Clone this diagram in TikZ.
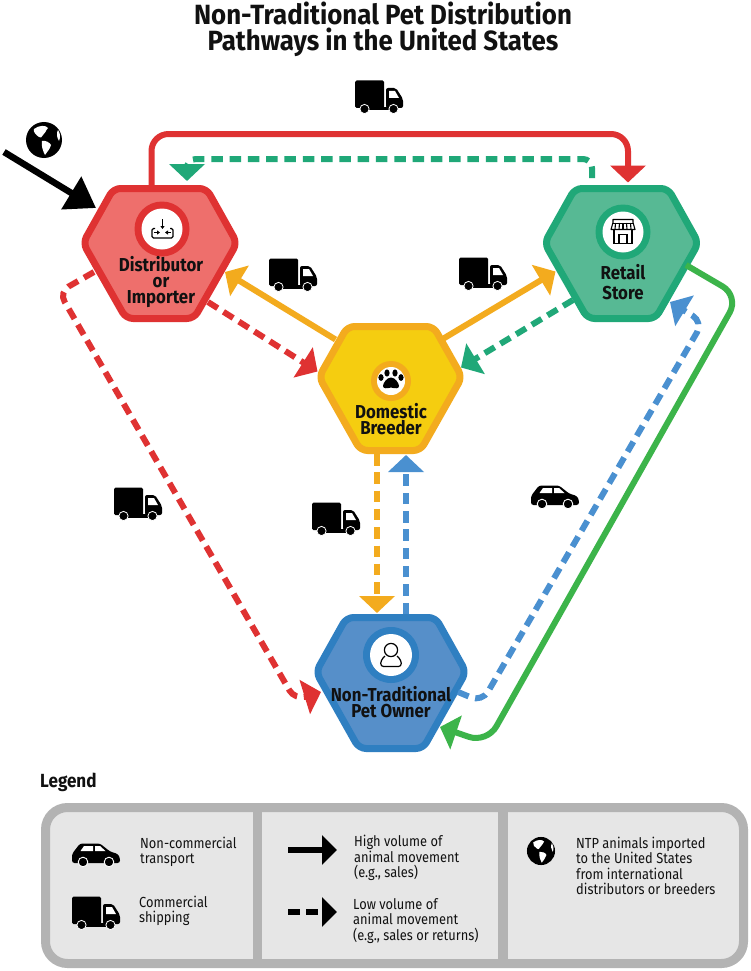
\documentclass[tikz,border=0pt]{standalone}
\usepackage{fontspec}
\setmainfont{Fira Sans}[FakeStretch=0.9]
\newfontfamily\regfont{Fira Sans}[FakeStretch=0.88]
\newfontfamily\titlefont{Fira Sans}[FakeStretch=0.93]
\usetikzlibrary{arrows.meta,calc}
\definecolor{cred}{HTML}{DF3232}\definecolor{credf}{HTML}{EE6F6C}
\definecolor{cgreen}{HTML}{20A878}\definecolor{cgreenf}{HTML}{57B994}
\definecolor{cyel}{HTML}{F3AB1E}\definecolor{cyelf}{HTML}{F5CD10}
\definecolor{cblue}{HTML}{2F7FC1}\definecolor{cbluef}{HTML}{568FC9}
\definecolor{cblue2}{HTML}{4A90D0}\definecolor{cgr2}{HTML}{3CB44A}
\definecolor{lgfill}{HTML}{E6E6E6}\definecolor{lgline}{HTML}{B3B3B3}
\definecolor{ink}{HTML}{111111}
\tikzset{
 hexbox/.style={inner sep=0pt,outer sep=0pt},
 hexline/.style={line width=7pt,line join=round,rounded corners=7pt},
 lab/.style={inner sep=0pt,align=center,text=ink,font=\bfseries\fontsize{18.7}{16}\selectfont},
 legtext/.style={inner sep=0pt,align=left,anchor=west,text=ink,font=\regfont\fontsize{14.6}{15.4}\selectfont},
 conn/.style={line width=6pt},
 dsh/.style={line width=6pt,dash pattern=on 11.5pt off 6.8pt},
 head/.style={-{Triangle[length=17pt,width=35pt]}},
 truck/.pic={
  \fill[black,rounded corners=1.5pt] (-24,-16.5) rectangle (5,11);
  \fill[black,rounded corners=2pt] (7,-9) -- (17,-9) -- (24,2) -- (24,11) -- (7,11) -- cycle;
  \fill[white] (10,-6) -- (16,-6) -- (20,1) -- (10,1) -- cycle;
  \fill[black] (-18,10) rectangle (18,13.5);
  \fill[black,draw=white,line width=.8pt] (-14.5,12) circle (4.6);
  \fill[black,draw=white,line width=.8pt] (14.5,12) circle (4.6);
 },
 car/.pic={
  \fill[black,rounded corners=2.5pt] (-24,8) -- (-24,-1) -- (-16,-11.5) -- (4,-11.5) -- (14,-3.5) -- (22,-1) -- (24,3) -- (24,8) -- cycle;
  \fill[white] (-15.5,-4) -- (-12,-9) -- (-3,-9) -- (-3,-4) -- cycle;
  \fill[white] (-1,-9) -- (4,-9) -- (9.5,-4) -- (-1,-4) -- cycle;
  \fill[black,draw=white,line width=.9pt] (-13,7) circle (4.8);
  \fill[black,draw=white,line width=.9pt] (13,7) circle (4.8);
 },
 globe/.pic={
  \fill[black] (0,0) circle (18);
  \fill[white] (-10,-11) .. controls (-5,-15) and (2,-15) .. (4,-12) .. controls (1,-9) and (2,-7) .. (-1,-5) .. controls (-3,-3) and (-3,-1) .. (-5,-3) .. controls (-8,-5) and (-11,-8) .. (-10,-11) -- cycle;
  \fill[white] (-2,1) .. controls (2,0) and (6,3) .. (7,5) .. controls (6,9) and (3,12) .. (1,15) .. controls (-1,11) and (-3,6) .. (-2,1) -- cycle;
  \fill[white] (14,-10) .. controls (16,-7) and (17,-3) .. (15,1) .. controls (13,-2) and (12,-7) .. (14,-10) -- cycle;
 },
}
\begin{document}
\begin{tikzpicture}[x=1pt,y=-1pt]
\useasboundingbox (0,0) rectangle (750,971);
\fill[white] (0,0) rectangle (750,971);

\node[inner sep=0pt,align=center,font=\titlefont\bfseries\fontsize{27.8}{26}\selectfont,text=ink] (title) at (383,29) {Non-Traditional Pet Distribution\\Pathways in the United States};

% hexagons
\path[fill=credf,draw=cred,hexline] (113.5,188.5) -- (206.5,188.5) -- (237,243) -- (194,318.5) -- (126,318.5) -- (83,243) -- cycle;
\node[hexbox,minimum width=156pt,minimum height=137pt] (dist) at (160,253.5) {};
\path[fill=cgreenf,draw=cgreen,hexline] (575,188.5) -- (668,188.5) -- (698.5,243) -- (655.5,318.5) -- (587.5,318.5) -- (544.5,243) -- cycle;
\node[hexbox,minimum width=156pt,minimum height=137pt] (retail) at (621.5,253.5) {};
\path[fill=cyelf,draw=cyel,hexline] (347.5,326.5) -- (433.5,326.5) -- (462,377) -- (420.5,450.5) -- (360.5,450.5) -- (319,377) -- cycle;
\node[hexbox,minimum width=149pt,minimum height=131pt] (breeder) at (390.5,388.5) {};
\path[fill=cbluef,draw=cblue,hexline] (346.5,617.5) -- (435.5,617.5) -- (466,672) -- (423,748.5) -- (359,748.5) -- (316,672) -- cycle;
\node[hexbox,minimum width=156pt,minimum height=138pt] (owner) at (391,683) {};

% icon discs
\fill[cred] (162,229) circle (27.5); \fill[white] (162,229) circle (20.5);
\fill[cgreen] (623,232) circle (27.5); \fill[white] (623,232) circle (20.5);
\fill[cyel] (391,381) circle (20); \fill[white] (391,381) circle (14);
\fill[cblue] (391,655) circle (28); \fill[white] (391,655) circle (21);

% import icon
\draw[black,line width=1.2pt,rounded corners=1.5pt] (155,228.5) -- (152,228.5) -- (152,238) -- (173,238) -- (173,228.5) -- (170,228.5);
\draw[black,line width=1.2pt,-{Triangle[length=3pt,width=4pt]}] (162.5,219) -- (162.5,229);
\draw[black,line width=1.1pt,-{Triangle[length=3pt,width=4pt]}] (154,232.5) -- (160,232.5);
\draw[black,line width=1.1pt,-{Triangle[length=3pt,width=4pt]}] (171,232.5) -- (165,232.5);
% store icon
\draw[black,line width=1.1pt] (614,230) -- (614,243.5) -- (632,243.5) -- (632,230);
\draw[black,line width=1.1pt] (619,243.5) -- (619,234.5) -- (627,234.5) -- (627,243.5);
\draw[black,line width=1.1pt,fill=white,line join=round] (613,219.5) -- (633,219.5) -- (633,222.5) -- (635,229.5) -- (611,229.5) -- (613,222.5) -- cycle;
\draw[black,line width=1pt] (613,223) -- (633,223);
\foreach \xb/\xt in {615/615.5,619/619.5,623/623,627/626.5,631/630.5}{\draw[black,line width=1.1pt] (\xb,229.5) -- (\xt,223);}
% paw icon
\fill[black] (391,377.5) .. controls (395,377.5) and (399,383) .. (399,386) .. controls (399,389) and (395,388.5) .. (391,387.5) .. controls (387,388.5) and (383,389) .. (383,386) .. controls (383,383) and (387,377.5) .. (391,377.5) -- cycle;
\fill[black] (381,377.5) ellipse (2.6 and 3.4);
\fill[black] (387,373) ellipse (2.6 and 3.6);
\fill[black] (395,373) ellipse (2.6 and 3.6);
\fill[black] (401,377.5) ellipse (2.6 and 3.4);
% person icon
\draw[black,line width=1.2pt] (391,650) circle (6.6);
\draw[black,line width=1.2pt,line join=round,rounded corners=3pt] (385,656) -- (381,660) -- (380.5,666.5) -- (401.5,666.5) -- (401,660) -- (397,656);

% labels
\node[lab] (ldist) at (161,282) {Distributor\\or\\Importer};
\node[lab,font=\bfseries\fontsize{18.7}{20}\selectfont] (lretail) at (623,282) {Retail\\Store};
\node[lab] (lbreeder) at (391,419) {Domestic\\Breeder};
\node[lab] (lowner) at (391,702) {Non-Traditional\\Pet Owner};

% connectors
\draw[conn,cred,head,rounded corners=17pt] ($(dist)+(-8.5,-68.5)$) -- (151.5,134) -- (628,134) -- ($(retail)+(6.5,-71)$);
\draw[dsh,cgreen,head,rounded corners=9pt] ($(retail)+(-29.5,-75.5)$) -- (592,159) -- (187,159) -- ($(dist)+(27,-72.5)$);
\draw[line width=6.5pt,black,-{Triangle[length=29pt,width=37pt]}] (4,152) -- ($(dist)+(-64,-45.5)$);
\draw[dsh,cred,head] ($(dist)+(48,48.5)$) -- ($(breeder)+(-73,-17)$);
\draw[conn,cyel,head] ($(breeder)+(-55,-49)$) -- ($(dist)+(65,18.5)$);
\draw[conn,cyel,head] ($(breeder)+(53,-50)$) -- ($(retail)+(-66,18)$);
\draw[dsh,cgreen,head] ($(retail)+(-48.5,46.5)$) -- ($(breeder)+(70.5,-21)$);
\draw[dsh,cred,head,rounded corners=11pt] ($(dist)+(-66,18.5)$) -- (59,292) -- (295,700) -- ($(owner)+(-70,9)$);
\draw[dsh,cyel,head] ($(breeder)+(-13.5,65.5)$) -- ($(owner)+(-14,-70)$);
\draw[dsh,cblue2,head] ($(owner)+(15,-69)$) -- ($(breeder)+(15.5,66.5)$);
\draw[conn,cgr2,head,rounded corners=19pt] ($(retail)+(64.5,11.5)$) -- (739,296) -- (487,743) -- ($(owner)+(49,44)$);
\draw[dsh,cblue2,head,rounded corners=12pt] ($(owner)+(67,9)$) -- (482,702) -- (703,322) -- ($(retail)+(48.5,48.5)$);

% trucks, car, globe
\pic at (379,97) {truck};
\pic at (293,275) {truck};
\pic at (483,274) {truck};
\pic at (336,519) {truck};
\pic at (138,504) {truck};
\pic at (555,497) {car};
\pic at (44,140) {globe};

% legend
\node[inner sep=0pt,anchor=west,font=\bfseries\fontsize{19}{20}\selectfont,text=ink] (legtitle) at (40,782) {Legend};
\draw[line width=9pt,lgline,fill=lgfill,rounded corners=22pt] (45.5,807.5) rectangle (743.5,963.5);
\fill[lgline] (253,808) rectangle (262,963);
\fill[lgline] (498,808) rectangle (508,963);
\pic at (96,855) {car};
\pic at (96,913) {truck};
\node[legtext] (t1) at (140,852) {Non-commercial\\transport};
\node[legtext] (t2) at (139,911) {Commercial\\shipping};
\node[legtext] (t3) at (354,858) {High volume of\\animal movement\\(e.g., sales)};
\node[legtext] (t4) at (353,921) {Low volume of\\animal movement\\(e.g., sales or returns)};
\node[legtext] (t5) at (576,866) {NTP animals imported\\to the United States\\from international\\distributors or breeders};
\coordinate (a1s) at (288,850); \coordinate (a1e) at (337,850);
\coordinate (a2s) at (288,912); \coordinate (a2e) at (337,912);
\draw[line width=6.5pt,black,-{Triangle[length=15pt,width=29pt]}] (a1s) -- (a1e);
\draw[line width=6.5pt,black,dash pattern=on 12pt off 6pt,-{Triangle[length=15pt,width=29pt]}] (a2s) -- (a2e);
\pic[scale=0.78] at (541,851) {globe};
\end{tikzpicture}
\end{document}
